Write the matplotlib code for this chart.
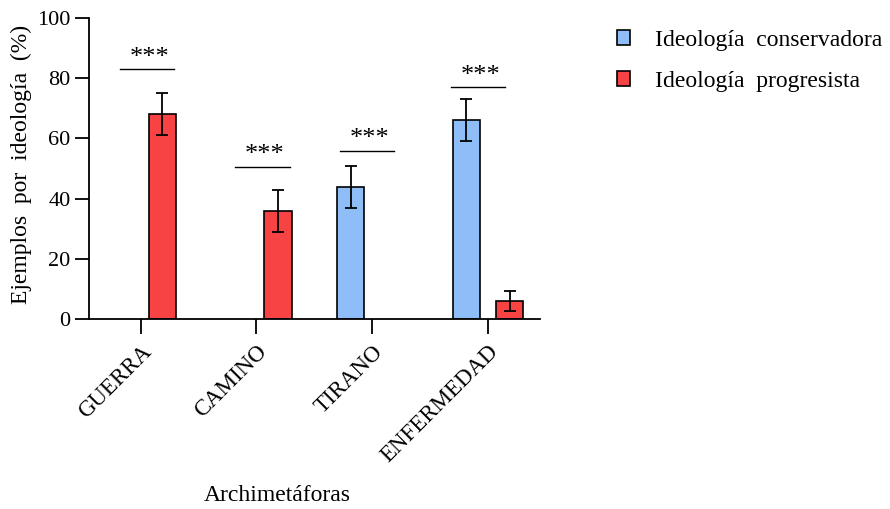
import numpy as np
import matplotlib
matplotlib.use("Agg")
import matplotlib.pyplot as plt
from matplotlib.patches import Patch

# datos
categorias = ["GUERRA", "CAMINO", "TIRANO", "ENFERMEDAD"]
conservadora = [0, 0, 44, 66]
conservadora_err = [0, 0, 7, 7]
progresista = [68, 36, 0, 6]
progresista_err = [7, 7, 0, 3.4]
sig_altura = [83, 50.5, 56, 77]
sig_texto = ["***", "***", "***", "***"]

azul = "#8fbdf7"
rojo = "#f74343"

plt.rcParams["font.family"] = ["Liberation Serif", "DejaVu Serif"]

fig = plt.figure(figsize=(8.9, 5.09), dpi=100)
ax = fig.add_axes([0.0996, 0.373, 0.5072, 0.5916])

x = np.arange(len(categorias))
ancho = 0.238
desp = 0.187

cons = np.array(conservadora, dtype=float)
prog = np.array(progresista, dtype=float)

ax.bar(x[cons > 0] - desp, cons[cons > 0], ancho, color=azul,
       edgecolor="black", linewidth=1.2, zorder=2)
ax.bar(x[prog > 0] + desp, prog[prog > 0], ancho, color=rojo,
       edgecolor="black", linewidth=1.2, zorder=2)
ax.errorbar(x[cons > 0] - desp, cons[cons > 0],
            yerr=np.array(conservadora_err)[cons > 0], fmt="none",
            ecolor="black", elinewidth=1.3, capsize=4, capthick=1.3, zorder=3)
ax.errorbar(x[prog > 0] + desp, prog[prog > 0],
            yerr=np.array(progresista_err)[prog > 0], fmt="none",
            ecolor="black", elinewidth=1.3, capsize=4, capthick=1.3, zorder=3)

# lineas de significancia
centros = [0.053, 1.053, 1.953, 2.914]
for c, h, t in zip(centros, sig_altura, sig_texto):
    ax.plot([c - 0.235, c + 0.235], [h, h], color="black", linewidth=1.0)
    ax.text(c + 0.02, h + 0.2, t, ha="center", va="bottom", fontsize=19)

ax.set_xlim(-0.45, 3.45)
ax.set_ylim(0, 100)
ax.set_yticks([0, 20, 40, 60, 80, 100])
ax.set_xticks(x)
ax.set_xticklabels(categorias, rotation=45, ha="right", rotation_mode="anchor",
                   fontsize=16.5)
ax.tick_params(axis="y", labelsize=16, length=10, width=1.3, pad=3)
ax.tick_params(axis="x", length=11, width=1.3, pad=5)
for s in ["top", "right"]:
    ax.spines[s].set_visible(False)
for s in ["left", "bottom"]:
    ax.spines[s].set_linewidth(1.3)

ax.set_ylabel("Ejemplos  por  ideología  (%)", fontsize=17)
ax.yaxis.set_label_coords(-0.125, 0.515)
ax.set_xlabel("Archimetáforas", fontsize=17)
ax.xaxis.set_label_coords(0.417, -0.55)

handles = [Patch(facecolor=azul, edgecolor="black", linewidth=1.2),
           Patch(facecolor=rojo, edgecolor="black", linewidth=1.2)]
fig.legend(handles, ["Ideología  conservadora", "Ideología  progresista"],
           loc="upper left", bbox_to_anchor=(0.683, 0.96), frameon=False,
           fontsize=17, handlelength=0.55, handleheight=0.55,
           handletextpad=1.05, labelspacing=0.85, borderaxespad=0)

fig.savefig("out.png", dpi=100)
